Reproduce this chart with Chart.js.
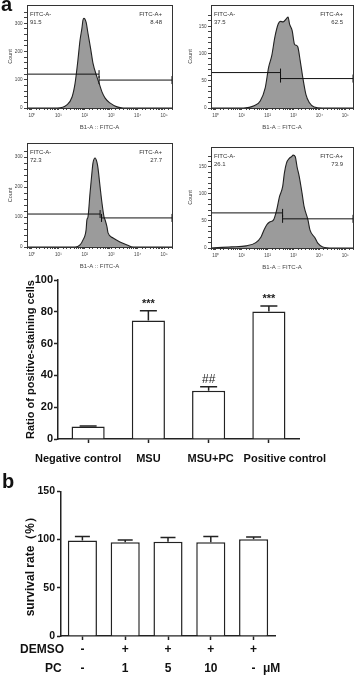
<!DOCTYPE html>
<html><head><meta charset="utf-8">
<script src="https://cdn.jsdelivr.net/npm/chart.js@4.4.0/dist/chart.umd.min.js"></script>
<style>
html,body{margin:0;padding:0;background:#fff;width:358px;height:676px;overflow:hidden;position:relative;font-family:"Liberation Sans",Arial,sans-serif}
canvas{position:absolute}
.t{position:absolute;font-weight:bold;color:#111;white-space:nowrap;line-height:14px;font-size:12px}
</style></head><body>
<canvas id="h1" width="180" height="135" style="left:0;top:0"></canvas>
<canvas id="h2" width="178" height="135" style="left:180px;top:0"></canvas>
<canvas id="h3" width="180" height="136" style="left:0;top:138px"></canvas>
<canvas id="h4" width="178" height="137" style="left:180px;top:138px"></canvas>
<canvas id="barA" width="358" height="200" style="left:0;top:272px"></canvas>
<canvas id="barB" width="358" height="193" style="left:0;top:483px"></canvas>
<div class="t" style="left:1px;top:-6px;font-size:20px;line-height:20px">a</div>
<div class="t" style="left:2px;top:471px;font-size:20px;line-height:20px">b</div>
<div class="t" style="left:20px;top:642px">DEMSO</div>
<div class="t" style="left:45px;top:661px">PC</div>
<div class="t" style="left:263px;top:661px">μM</div>
<script>
// ---------- DATA ----------
// Flow cytometry histograms (FITC intensity, cell count)
const h1Fitc  = [0.65, 9, 21, 33, 43, 55, 66, 78, 85, 93, 112, 132, 170, 204, 288, 347, 447, 589, 891, 1660, 2818, 200000];
const h1Count = [0, 0, 11, 39, 88, 170, 240, 283, 311, 318, 304, 265, 205, 159, 110, 88, 57, 35, 18, 4, 0, 0];
const h2Fitc  = [0.65, 12, 30, 52, 81, 110, 145, 191, 257, 316, 398, 537, 617, 708, 891, 1096, 1288, 1479, 1820, 2291, 3020, 4074, 6310, 13183, 200000];
const h2Count = [0, 0, 4, 13, 37, 75, 96, 130, 154, 159, 158, 164, 167, 154, 142, 117, 115, 112, 87, 56, 25, 10, 2, 0, 0];
const h3Fitc  = [0.65, 43, 66, 85, 112, 120, 132, 158, 186, 204, 245, 288, 316, 380, 447, 537, 589, 692, 759, 1175, 2138, 3981, 6761, 200000];
const h3Count = [0, 0, 7, 23, 57, 90, 100, 180, 247, 280, 297, 283, 263, 200, 147, 100, 90, 67, 47, 30, 17, 7, 0, 0];
const h4Fitc  = [0.65, 4, 15, 35, 55, 72, 93, 120, 170, 224, 288, 380, 447, 537, 692, 832, 977, 1175, 1380, 1660, 2138, 2570, 3631, 4365, 6761, 8710, 13490, 32359, 200000];
const h4Count = [0, 2, 4, 10, 20, 33, 43, 48, 52, 70, 95, 113, 139, 157, 166, 169, 172, 169, 150, 133, 102, 77, 52, 33, 19, 9, 2, 0, 0];
const negPct = ['91.5', '37.5', '72.3', '26.1'];
const posPct = ['8.48', '62.5', '27.7', '73.9'];
const gateLeftEnd    = [347, 316, 380, 380];
const gateRightStart = [347, 316, 430, 380];
const gateLeftLevel  = [120, 65, 110, 65];
const gateRightLevel = [99, 54, 97, 54];
const countMax  = [365, 189, 347, 187];
const countStep = [20, 10, 20, 10];
const countLabelStep = [100, 50, 100, 50];
const fitcMin = 0.65, fitcMax = 200000;
const decadeSup = ['⁰','¹','²','³','⁴','⁵'];

// Positive-staining bar chart
const groups = ['Negative control', 'MSU', 'MSU+PC', 'Positive control'];
const ratioValues = [7.8, 74.5, 30.3, 80.2];
const ratioErrors = [0.4, 6.2, 2.5, 3.4];
const ratioMarks  = ['', '***', '##', '***'];
const ratioTicks  = [0, 20, 40, 60, 80, 100];

// Survival rate bar chart
const demsoRow = ['-', '+', '+', '+', '+'];
const pcRow    = ['-', '1', '5', '10', '-'];
const survivalValues = [99.1, 97.3, 97.7, 97.3, 100.3];
const survivalErrors = [4.1, 2.3, 4.3, 5.8, 2.4];

// ---------- RENDERING ----------
const FAM = '"Liberation Sans", Arial, sans-serif';
Chart.defaults.font.family = FAM;
const groupLabelShift = [-10, 0, 2, 16];

const flowFrame = {
  id: 'flowFrame',
  afterDraw(chart, args, o) {
    const {ctx, chartArea: a} = chart;
    ctx.save();
    ctx.strokeStyle = '#333'; ctx.lineWidth = 1;
    ctx.strokeRect(Math.round(a.left) + 0.5, Math.round(a.top) + 0.5, a.right - a.left, a.bottom - a.top);
    ctx.fillStyle = '#333';
    ctx.font = '6px ' + FAM;
    ctx.textBaseline = 'middle';
    ctx.textAlign = 'left';
    ctx.fillText('FITC-A-', a.left + 3, a.top + 9);
    ctx.fillText(o.neg, a.left + 3, a.top + 17);
    ctx.textAlign = 'right';
    ctx.fillText('FITC-A+', a.right - 10, a.top + 9);
    ctx.fillText(o.pos, a.right - 10, a.top + 17);
    ctx.restore();
  }
};

function makeHist(id, fitc, counts, i, layout) {
  const pts = fitc.map((x, k) => ({x: x, y: counts[k]}));
  new Chart(document.getElementById(id), {
    type: 'line',
    data: {datasets: [
      {data: [{x: fitcMin, y: gateLeftLevel[i]}, {x: gateLeftEnd[i], y: gateLeftLevel[i]}],
       borderColor: '#111', borderWidth: 1, pointStyle: 'line', pointRotation: 90,
       pointRadius: [0, 4], pointBorderColor: '#111', pointBorderWidth: 1, order: 0},
      {data: [{x: gateRightStart[i], y: gateRightLevel[i]}, {x: fitcMax, y: gateRightLevel[i]}],
       borderColor: '#111', borderWidth: 1, pointStyle: 'line', pointRotation: 90,
       pointRadius: 4, pointBorderColor: '#111', pointBorderWidth: 1, order: 0},
      {data: pts, borderColor: '#222', borderWidth: 1.1, backgroundColor: '#9b9b9b',
       fill: 'origin', pointRadius: 0, cubicInterpolationMode: 'monotone', order: 1}
    ]},
    options: {
      responsive: false, animation: false, devicePixelRatio: 1,
      layout: {padding: {top: layout.top, right: layout.right, left: 0, bottom: 0}},
      plugins: {legend: {display: false}, tooltip: {enabled: false},
                flowFrame: {neg: negPct[i], pos: posPct[i]}},
      scales: {
        x: {type: 'logarithmic', min: fitcMin, max: fitcMax,
            grid: {drawOnChartArea: false, tickLength: 2, tickColor: '#444'},
            border: {color: '#333', width: 1},
            ticks: {autoSkip: false, maxRotation: 0, padding: 3, color: '#444',
                    font: {size: 4.6},
                    callback: (v) => {
                      const l = Math.log10(v);
                      const r = Math.round(l);
                      return (Math.abs(l - r) < 1e-6 && r >= 0 && r <= 5) ? '10' + decadeSup[r] : '';
                    }},
            title: {display: true, text: 'B1-A :: FITC-A', color: '#444', font: {size: 6},
                    padding: {top: 2, bottom: 4}},
            afterFit: (s) => { s.height = 27; }},
        y: {min: 0, max: countMax[i],
            grid: {drawOnChartArea: false, tickLength: 3,
                   tickColor: (c) => (c.tick && c.tick.value % countStep[i] === 0) ? '#444' : 'rgba(0,0,0,0)'},
            border: {color: '#333', width: 1},
            ticks: {stepSize: countStep[i], autoSkip: false, padding: 1.5, color: '#444', font: {size: 4.6},
                    callback: (v) => (v % countLabelStep[i] === 0 ? String(v) : '')},
            title: {display: true, text: 'Count', color: '#444', font: {size: 5.5},
                    padding: {top: layout.titlePad, bottom: 0}},
            afterFit: (s) => { s.width = layout.yw; }}
      }
    },
    plugins: [flowFrame]
  });
}
makeHist('h1', h1Fitc, h1Count, 0, {top: 5, right: 8, yw: 27, titlePad: 7});
makeHist('h2', h2Fitc, h2Count, 1, {top: 5, right: 4, yw: 31, titlePad: 7});
makeHist('h3', h3Fitc, h3Count, 2, {top: 5, right: 8, yw: 27, titlePad: 7});
makeHist('h4', h4Fitc, h4Count, 3, {top: 9, right: 4, yw: 31, titlePad: 7});

const errBars = {
  id: 'errBars',
  afterDatasetsDraw(chart, args, o) {
    const ctx = chart.ctx, meta = chart.getDatasetMeta(0), y = chart.scales.y;
    const vals = chart.data.datasets[0].data;
    ctx.save();
    ctx.strokeStyle = '#222'; ctx.lineWidth = 1.5; ctx.fillStyle = '#222';
    meta.data.forEach((bar, k) => {
      const base = y.getPixelForValue(vals[k]);
      const top = y.getPixelForValue(vals[k] + o.errors[k]);
      ctx.beginPath();
      ctx.moveTo(bar.x, base); ctx.lineTo(bar.x, top);
      ctx.moveTo(bar.x - o.cap / 2, top); ctx.lineTo(bar.x + o.cap / 2, top);
      ctx.stroke();
      if (o.marks && o.marks[k]) {
        const m = o.marks[k];
        ctx.font = (m.indexOf('*') >= 0 ? 'bold 11px ' : '12px ') + FAM;
        ctx.textAlign = 'center'; ctx.textBaseline = 'alphabetic';
        ctx.fillText(m, bar.x, top - 4);
      }
    });
    ctx.restore();
  },
  afterDraw(chart, args, o) {
    if (!o.shift) return;
    const ctx = chart.ctx, xs = chart.scales.x;
    ctx.save();
    ctx.fillStyle = '#111';
    ctx.font = 'bold 11px ' + FAM;
    ctx.textAlign = 'center'; ctx.textBaseline = 'middle';
    chart.data.labels.forEach((lab, k) => {
      ctx.fillText(lab, xs.getPixelForTick(k) + o.shift[k], xs.top + 20);
    });
    ctx.restore();
  }
};

new Chart(document.getElementById('barA'), {
  type: 'bar',
  data: {labels: groups, datasets: [{data: ratioValues, backgroundColor: '#fff', borderColor: '#222',
         borderWidth: 1.5, barPercentage: 0.55, categoryPercentage: 1}]},
  options: {
    responsive: false, animation: false, devicePixelRatio: 1,
    layout: {padding: {top: 8, right: 59, left: 0, bottom: 0}},
    plugins: {legend: {display: false}, tooltip: {enabled: false},
              errBars: {errors: ratioErrors, marks: ratioMarks, cap: 17, shift: groupLabelShift}},
    scales: {
      x: {grid: {offset: false, drawOnChartArea: false, tickLength: 4, tickColor: '#222', tickWidth: 1.5},
          border: {color: '#222', width: 1.5},
          ticks: {display: false},
          afterFit: (s) => { s.height = 33; }},
      y: {min: 0, max: 100,
          afterBuildTicks: (s) => { s.ticks = ratioTicks.map(v => ({value: v})); },
          grid: {drawOnChartArea: false, tickLength: 4, tickColor: '#222', tickWidth: 1.5},
          border: {color: '#222', width: 1.5},
          ticks: {color: '#111', font: {size: 11, weight: 'bold'}, padding: 1},
          title: {display: true, text: 'Ratio of positive-staining cells', color: '#111',
                  font: {size: 11, weight: 'bold'}, padding: {top: 24, bottom: 0}},
          afterFit: (s) => { s.width = 58; }}
    }
  },
  plugins: [errBars]
});

new Chart(document.getElementById('barB'), {
  type: 'bar',
  data: {labels: demsoRow.map((d, k) => [d, pcRow[k]]),
         datasets: [{data: survivalValues, backgroundColor: '#fff', borderColor: '#222',
                     borderWidth: 1.5, barPercentage: 0.68, categoryPercentage: 1}]},
  options: {
    responsive: false, animation: false, devicePixelRatio: 1,
    layout: {padding: {top: 8, right: 83, left: 0, bottom: 0}},
    plugins: {legend: {display: false}, tooltip: {enabled: false},
              errBars: {errors: survivalErrors, cap: 15}},
    scales: {
      x: {grid: {offset: false, drawOnChartArea: false, tickLength: 4, tickColor: '#222', tickWidth: 1.5},
          border: {color: '#222', width: 1.5},
          ticks: {color: '#111', font: {size: 12, weight: 'bold', lineHeight: '19px'}, padding: 0,
                  maxRotation: 0, autoSkip: false},
          afterFit: (s) => { s.height = 40; }},
      y: {min: 0, max: 150,
          grid: {drawOnChartArea: false, tickLength: 4, tickColor: '#222', tickWidth: 1.5},
          border: {color: '#222', width: 1.5},
          ticks: {stepSize: 50, color: '#111', font: {size: 10.5, weight: 'bold'}, padding: 2},
          title: {display: true, text: 'survival rate（%）', color: '#111',
                  font: {size: 12, weight: 'bold'}, padding: {top: 23, bottom: 0}},
          afterFit: (s) => { s.width = 61; }}
    }
  },
  plugins: [errBars]
});
</script>
</body></html>
